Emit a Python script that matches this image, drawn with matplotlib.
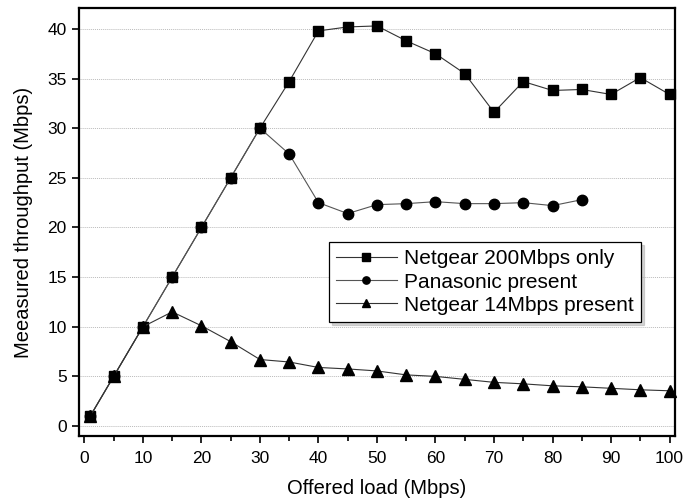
import matplotlib
matplotlib.use("Agg")
import matplotlib.pyplot as plt

plt.rcParams['font.family'] = ['Liberation Sans', 'DejaVu Sans']

load = [1, 5, 10, 15, 20, 25, 30, 35, 40, 45, 50, 55, 60, 65, 70, 75, 80, 85, 90, 95, 100]
netgear200 = [1, 5, 10, 15, 20, 25, 30, 34.7, 39.8, 40.2, 40.3, 38.8, 37.5, 35.5, 31.6, 34.7, 33.8, 33.9, 33.4, 35.1, 33.4]
load_pana = [1, 5, 10, 15, 20, 25, 30, 35, 40, 45, 50, 55, 60, 65, 70, 75, 80, 85]
panasonic = [1, 5, 10, 15, 20, 25, 30, 27.4, 22.5, 21.4, 22.3, 22.4, 22.6, 22.4, 22.4, 22.5, 22.2, 22.8]
netgear14 = [1, 5, 10, 11.5, 10.1, 8.5, 6.7, 6.45, 5.9, 5.75, 5.55, 5.15, 5.0, 4.7, 4.4, 4.25, 4.05, 3.95, 3.8, 3.65, 3.55]

fig = plt.figure(figsize=(6.83, 5.04), dpi=100)
ax = fig.add_axes([0.115, 0.135, 0.873, 0.849])

ax.yaxis.grid(True, color='#bbbbbb', linestyle=(0, (1, 1)), linewidth=0.7)
ax.set_axisbelow(True)

ax.plot(load, netgear200, color='#333333', linewidth=0.8, marker='s', markersize=7.5,
        markerfacecolor='black', markeredgecolor='black', label='Netgear 200Mbps only', clip_on=False, zorder=3)
ax.plot(load_pana, panasonic, color='#555555', linewidth=0.8, marker='o', markersize=7.5,
        markerfacecolor='black', markeredgecolor='black', label='Panasonic present', zorder=3)
ax.plot(load, netgear14, color='#333333', linewidth=0.8, marker='^', markersize=8,
        markerfacecolor='black', markeredgecolor='black', label='Netgear 14Mbps present', clip_on=False, zorder=3)

ax.set_xlim(-1, 100.9)
ax.set_ylim(-1, 42.1)
ax.set_xticks(range(0, 101, 10))
ax.set_xticks(range(5, 100, 10), minor=True)
ax.set_yticks(range(0, 41, 5))

for s in ax.spines.values():
    s.set_linewidth(1.6)

ax.tick_params(axis='both', which='major', direction='out', length=5, width=1.2, labelsize=12.5)
ax.tick_params(axis='x', which='minor', direction='out', length=3.5, width=1.2)
ax.tick_params(axis='x', which='major', pad=6)

ax.set_xlabel('Offered load (Mbps)', fontsize=14.5, labelpad=9)
ax.set_ylabel('Meeasured throughput (Mbps)', fontsize=14.5, labelpad=10)

leg = ax.legend(loc='upper left', bbox_to_anchor=(0.42, 0.453), fontsize=15,
                frameon=True, fancybox=False, shadow={'color': '#aaaaaa'}, handlelength=2.9,
                borderpad=0.35, labelspacing=0.2, handletextpad=0.35, borderaxespad=0,
                markerscale=0.7)
leg.get_frame().set_edgecolor('black')
leg.get_frame().set_linewidth(0.9)
leg.get_frame().set_alpha(1)

fig.savefig('out.png', dpi=100)
